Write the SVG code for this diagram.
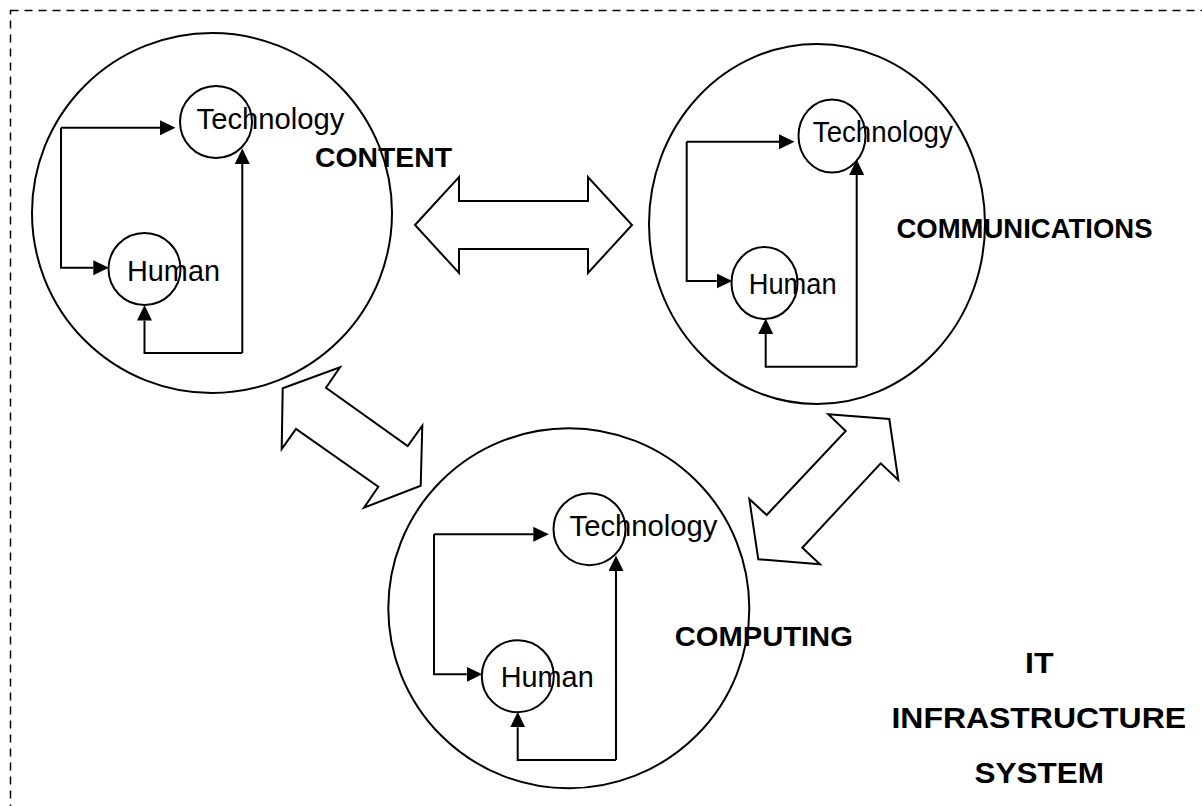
<svg xmlns="http://www.w3.org/2000/svg" width="1202" height="806" viewBox="0 0 1202 806">
  <style>
    .frame { fill: none; stroke: #000; stroke-width: 1.5; stroke-dasharray: 8 6; }
    .sphere { fill: none; stroke: #000; stroke-width: 2; }
    .node { fill: none; stroke: #000; stroke-width: 2; }
    .link { fill: none; stroke: #000; stroke-width: 2; marker-end: url(#head); }
    .flow { fill: #fff; stroke: #000; stroke-width: 2; stroke-linejoin: miter; }
    .lbl { font-family: "Liberation Sans", Arial, sans-serif; fill: #000; }
    .reg { font-size: 29.5px; }
    .bold { font-size: 28.5px; font-weight: bold; }
  </style>
  <defs>
    <marker id="head" markerUnits="userSpaceOnUse" markerWidth="17" markerHeight="16" refX="0" refY="7.5" orient="auto">
      <path d="M0,0 L15.5,7.5 L0,15 Z" fill="#000"/>
    </marker>
  </defs>

  <rect width="1202" height="806" fill="#fff"/>

  <!-- outer system boundary -->
  <rect class="frame" x="10.5" y="10.5" width="1300" height="900"/>

  <!-- two-way flow arrows between domains -->
  <g id="flows">
    <polygon class="flow" points="415,225 459,177 459,201 588,201 588,177 632,225 588,273 588,249 459,249 459,273"/>
    <polygon class="flow" points="282.7,388.3 340,367.3 326,387.7 407.7,446 422.3,425.7 420.7,485.7 364,507.7 378.3,486.7 296,429 281.7,449"/>
    <polygon class="flow" points="828.3,414.3 889.3,419 898.3,480 880.7,463.3 802.3,547.7 820,564.3 758.3,559.3 749.3,499 766.7,515 845.7,431"/>
  </g>

  <!-- CONTENT domain -->
  <g id="content">
    <circle class="sphere" cx="212" cy="213" r="180"/>
    <g id="content-technology">
      <circle class="node" cx="216" cy="122" r="36"/>
      <text class="lbl reg" x="196.5" y="129.3" textLength="148" lengthAdjust="spacingAndGlyphs">Technology</text>
    </g>
    <g id="content-human">
      <circle class="node" cx="144.5" cy="269" r="36"/>
      <text class="lbl reg" x="127" y="281" textLength="93" lengthAdjust="spacingAndGlyphs">Human</text>
    </g>
    <text class="lbl bold" x="315" y="166.7" textLength="137" lengthAdjust="spacingAndGlyphs">CONTENT</text>
  </g>

  <!-- COMMUNICATIONS domain -->
  <g id="communications">
    <ellipse class="sphere" cx="817" cy="224" rx="168" ry="180"/>
    <g id="communications-technology">
      <ellipse class="node" cx="832" cy="136" rx="33.5" ry="36.5"/>
      <text class="lbl reg" x="812.8" y="141.7" textLength="140" lengthAdjust="spacingAndGlyphs">Technology</text>
    </g>
    <g id="communications-human">
      <ellipse class="node" cx="764.5" cy="283" rx="33" ry="36"/>
      <text class="lbl reg" x="748.7" y="294" textLength="88" lengthAdjust="spacingAndGlyphs">Human</text>
    </g>
    <text class="lbl bold" x="896.5" y="238.3" textLength="256" lengthAdjust="spacingAndGlyphs">COMMUNICATIONS</text>
  </g>

  <!-- COMPUTING domain -->
  <g id="computing">
    <ellipse class="sphere" cx="568.8" cy="608.3" rx="180.5" ry="180"/>
    <g id="computing-technology">
      <circle class="node" cx="589.5" cy="529.2" r="36"/>
      <text class="lbl reg" x="569.5" y="536" textLength="148" lengthAdjust="spacingAndGlyphs">Technology</text>
    </g>
    <g id="computing-human">
      <circle class="node" cx="517.8" cy="676.2" r="36"/>
      <text class="lbl reg" x="500.7" y="687.3" textLength="93" lengthAdjust="spacingAndGlyphs">Human</text>
    </g>
    <text class="lbl bold" x="674.8" y="646" textLength="178" lengthAdjust="spacingAndGlyphs">COMPUTING</text>
  </g>

  <!-- system title -->
  <g id="system-title">
    <text class="lbl bold" x="1025" y="672.7" textLength="28.5" lengthAdjust="spacingAndGlyphs" style="font-size:29.5px">IT</text>
    <text class="lbl bold" x="891.5" y="727.7" textLength="294.5" lengthAdjust="spacingAndGlyphs" style="font-size:29.5px">INFRASTRUCTURE</text>
    <text class="lbl bold" x="974.5" y="783.3" textLength="129.5" lengthAdjust="spacingAndGlyphs" style="font-size:29.5px">SYSTEM</text>
  </g>

  <!-- human / technology feedback connectors -->
  <g id="connectors">
    <path class="link" d="M61,127.7 H160"/>
    <path class="link" d="M61,127.7 V267.7 H93.3"/>
    <path class="link" d="M242.3,353 V164"/>
    <path class="link" d="M242.3,353 H144.5 V320.5"/>

    <path class="link" d="M686.7,141.7 H779"/>
    <path class="link" d="M686.7,141.7 V281 H716.7"/>
    <path class="link" d="M856.7,366.7 V175"/>
    <path class="link" d="M856.7,366.7 H765.7 V334"/>

    <path class="link" d="M434,534.3 H533.3"/>
    <path class="link" d="M434,534.3 V674.3 H466.7"/>
    <path class="link" d="M616,760 V571"/>
    <path class="link" d="M616,760 H517.7 V727.3"/>
  </g>
</svg>
